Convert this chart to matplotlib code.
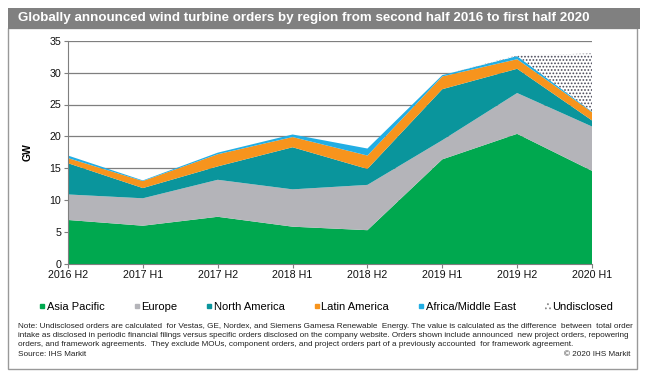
import matplotlib
matplotlib.use("Agg")
import matplotlib.pyplot as plt
from matplotlib.patches import Rectangle, Patch
from matplotlib.lines import Line2D

# ---- data ----
periods = ["2016 H2", "2017 H1", "2017 H2", "2018 H1", "2018 H2", "2019 H1", "2019 H2", "2020 H1"]
asia_pacific = [6.9, 6.0, 7.4, 5.85, 5.3, 16.4, 20.4, 14.6]
europe = [4.0, 4.3, 5.8, 5.85, 7.1, 3.0, 6.4, 6.95]
north_america = [4.9, 1.6, 2.1, 6.6, 2.5, 8.0, 3.8, 0.95]
latin_america = [0.8, 1.1, 1.9, 1.6, 2.1, 2.0, 1.5, 1.3]
africa_me = [0.4, 0.1, 0.25, 0.4, 1.1, 0.2, 0.5, 0.1]
undisclosed = [0, 0, 0, 0, 0, 0, 0.1, 9.1]
series_names = ["Asia Pacific", "Europe", "North America", "Latin America", "Africa/Middle East", "Undisclosed"]
y_ticks = [0, 5, 10, 15, 20, 25, 30, 35]

colors = ["#00a84f", "#b4b4b9", "#0a959c", "#f7941d", "#22aee4", "white"]

plt.rcParams['font.family'] = ['Liberation Sans', 'DejaVu Sans']
plt.rcParams['hatch.linewidth'] = 0.8
plt.rcParams['hatch.color'] = '#4a4a5a'

W, H = 646, 377
fig = plt.figure(figsize=(W / 100, H / 100), dpi=100)

def fx(px):
    return px / W

def fy(py):
    return 1 - py / H

# outer frame
fig.patches.append(Rectangle((fx(8), fy(369)), fx(637) - fx(8), fy(28) - fy(369),
                             transform=fig.transFigure, fill=False, edgecolor="#999999", lw=1.0))
# title bar
fig.patches.append(Rectangle((fx(8), fy(29)), fx(640) - fx(8), fy(8) - fy(29),
                             transform=fig.transFigure, facecolor="#808080", edgecolor="none"))
fig.text(fx(18), fy(18.5), "Globally announced wind turbine orders by region from second half 2016 to first half 2020",
         color="white", fontsize=9.6, fontweight="bold", va="center", ha="left",
         family=['Liberation Sans Narrow', 'Liberation Sans', 'DejaVu Sans'])

ax = fig.add_axes([fx(68), fy(264), fx(592) - fx(68), fy(40.7) - fy(264)])
x = list(range(len(periods)))
polys = ax.stackplot(x, asia_pacific, europe, north_america, latin_america, africa_me, undisclosed,
                     colors=colors, linewidth=0, zorder=2)
polys[-1].set_hatch('.....')
polys[-1].set_edgecolor('#4a4a5a')
polys[-1].set_linewidth(0)

ax.set_xlim(0, len(periods) - 1)
ax.set_ylim(0, 35)
ax.set_yticks(y_ticks)
ax.set_xticks(x)
ax.set_xticklabels(periods)
ax.yaxis.grid(True, color="#7f7f7f", lw=0.9, zorder=0)
ax.set_axisbelow(True)
for s in ["top", "right"]:
    ax.spines[s].set_visible(False)
ax.spines["left"].set_color("#7f7f7f")
ax.spines["bottom"].set_color("#7f7f7f")
ax.spines["left"].set_zorder(3)
ax.spines["bottom"].set_zorder(3)
ax.tick_params(axis="both", colors="#7f7f7f", labelcolor="#111111", labelsize=7.7, length=3, width=0.8)
ax.tick_params(axis="y", pad=2)
ax.tick_params(axis="x", pad=1.5)
ax.set_ylabel("GW", fontsize=7.5, fontweight="bold", labelpad=12)

# legend
handles = [Line2D([0], [0], marker="s", linestyle="none", markersize=3.5,
                  markerfacecolor=c, markeredgecolor=c) for c in colors[:-1]]
handles.append(Patch(facecolor="white", edgecolor="#888888", hatch="....", linewidth=0))
leg = fig.legend(handles, series_names, loc="center", bbox_to_anchor=(fx(326), fy(307)), ncol=6,
                 frameon=False, fontsize=8, handlelength=0.6, handleheight=0.6, handletextpad=0.1,
                 columnspacing=2.6)

note_lines = [
    "Note: Undisclosed orders are calculated  for Vestas, GE, Nordex, and Siemens Gamesa Renewable  Energy. The value is calculated as the difference  between  total order",
    "intake as disclosed in periodic financial filings versus specific orders disclosed on the company website. Orders shown include announced  new project orders, repowering",
    "orders, and framework agreements.  They exclude MOUs, component orders, and project orders part of a previously accounted  for framework agreement.",
]
for i, line in enumerate(note_lines):
    fig.text(fx(18), fy(326 + i * 9.5), line, fontsize=5.9, color="#222222", va="center", ha="left")
fig.text(fx(18), fy(354.5), "Source: IHS Markit", fontsize=5.9, color="#222222", va="center", ha="left")
fig.text(fx(630), fy(354.5), "\u00a9 2020 IHS Markit", fontsize=5.9, color="#222222", va="center", ha="right")

fig.savefig("out.png", dpi=100)
